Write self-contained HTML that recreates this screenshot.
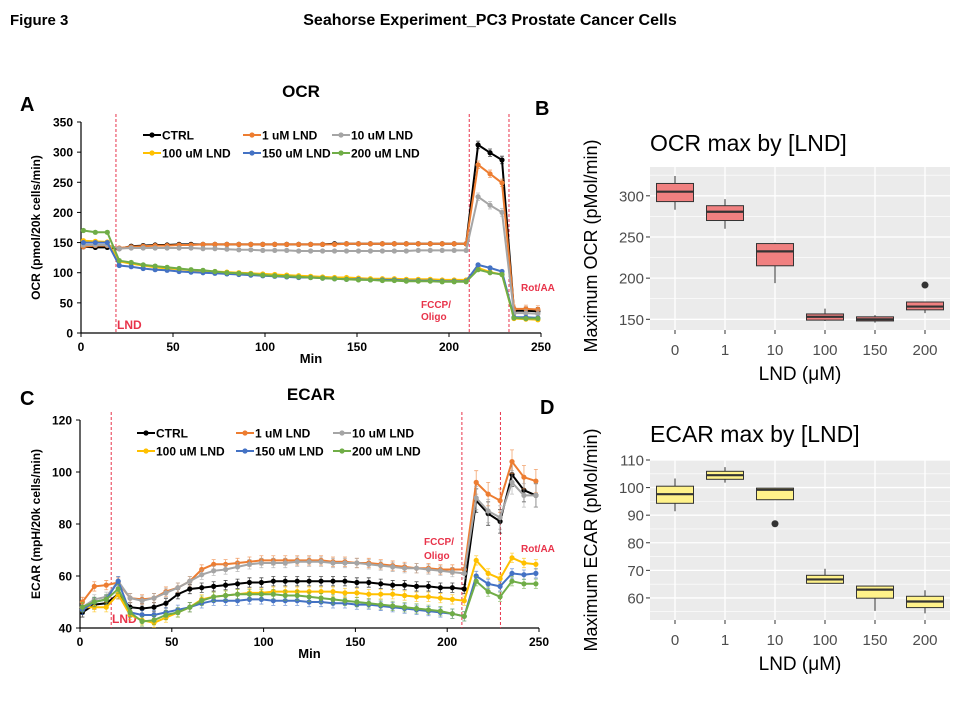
<!DOCTYPE html>
<html><head><meta charset="utf-8"><style>
html,body{margin:0;padding:0;background:#fff;}
svg{display:block;font-family:"Liberation Sans",Arial,sans-serif;}
</style></head><body>
<svg id="fig" width="960" height="720" viewBox="0 0 960 720">
<text x="10" y="25" font-size="15" font-weight="bold">Figure 3</text>
<text x="490" y="25" font-size="16" font-weight="bold" text-anchor="middle">Seahorse Experiment_PC3 Prostate Cancer Cells</text>
<text x="20" y="111" font-size="20" font-weight="bold">A</text>
<text x="535" y="115" font-size="20" font-weight="bold">B</text>
<text x="20" y="405" font-size="20" font-weight="bold">C</text>
<text x="540" y="414" font-size="20" font-weight="bold">D</text>
<g id="gA"></g>
<g id="gC"></g>
<g id="gB"></g>
<g id="gD"></g>
</svg>
<script>
const times=[1.3,7.8,14.3,20.8,27.3,33.8,40.3,46.8,53.3,59.8,66.3,72.8,79.3,85.8,92.3,98.8,105.3,111.8,118.3,124.8,131.3,137.8,144.3,150.8,157.3,163.8,170.3,176.8,183.3,189.8,196.3,202.8,209.3,215.8,222.3,228.8,235.3,241.8,248.3];
const seriesNames=["CTRL","1 uM LND","10 uM LND","100 uM LND","150 uM LND","200 uM LND"];
const seriesColors=["#000000","#ed7d31","#a5a5a5","#ffc000","#4472c4","#70ad47"];
const ocrCtrl=[143,142,142,140,144,145,146,146,147,147,147,147,147,147,147,147,147,147,147,147,147,148,148,148,148,148,148,148,148,148,148,148,148,312,299,287,37,37,36];
const ocr1=[143,145,145,141,143,144,145,145,146,146,147,147,147,147,147,147,147,147,147,147,147,147,148,148,148,148,148,148,148,148,148,148,148,279,264,249,40,40,39];
const ocr10=[146,146,146,140,141,141,141,141,141,141,140,140,139,138,138,137,137,137,136,136,136,136,136,136,136,136,136,136,137,137,137,137,137,226,212,200,33,33,32];
const ocr100=[153,152,151,119,115,112,109,107,106,104,103,102,101,100,99,98,97,96,95,94,93,92,92,91,90,90,90,89,89,89,88,88,88,108,101,97,24,23,22];
const ocr150=[150,150,150,112,110,107,105,104,102,101,100,99,98,97,96,95,94,93,92,92,91,90,89,89,88,88,88,87,87,87,86,86,86,113,108,102,26,26,25];
const ocr200=[170,167,167,120,117,113,111,109,107,105,104,102,100,99,98,96,95,94,93,92,91,90,89,88,88,87,87,86,86,86,85,85,85,105,100,97,25,24,24];
const ecarCtrl=[46,49,49.5,53,48,47.5,48,49.5,53,55,55.5,56,56.5,57,57.5,57.5,58,58,58,58,58,58,58,57.5,57.5,57,56.5,56.5,56,56,55.5,55.5,55,89,84,81,99,93,91];
const ecar1=[50,56,56.5,57.5,51.5,51,51.5,54,55.5,58,62.5,64.5,64.5,65,65.5,66,66,66,66,66,66,65.5,65.5,65,65,64.5,64,63.5,63,63,62.5,62.5,62.5,96,91.5,89,104,98,96.5];
const ecar10=[48,51,52,58,51.5,50.5,51.5,53.5,55.5,58,60.5,62,62.5,63.5,64.5,65,65,65,65.5,65.5,65.5,65,65,65,64.5,64,63.5,63,63,62.5,62,61.5,61,90,85,82.5,96,91,91];
const ecar100=[48,48,48,53,45,43,42,44,46,48,51,52,52.5,53,53.5,53.5,54,54,54,54,54,54,53.5,53.5,53,53,53,52.5,52,52,51.5,51,50.5,66,61,59,67,65,64.5];
const ecar150=[47,50,51,58,46,45,45,46,47,48,49.5,50.5,50.5,50.5,51,51,50.5,50.5,50.5,50,50,49.5,49.5,49,49,48.5,48,47.5,47,46.5,46,45.5,44.5,60,57,56,61,60.5,61];
const ecar200=[48,50,51,55,46,42.5,43,45,46,48,50.5,52,52.5,53,53,53,53,52.5,52.5,52,51.5,51,50.5,50,49.5,49,48.5,48,47.5,47,46.5,45.5,44.5,58,54,52,58,57,57];
const ocrTicks=[0,50,100,150,200,250,300,350];
const ecarTicks=[40,60,80,100,120];
const xTicks=[0,50,100,150,200,250];
const boxCats=["0","1","10","100","150","200"];
const ocrBoxLow=[283,260,194,148,146,157.5];
const ocrBoxQ1=[293,270,215,149,148,161.5];
const ocrBoxMed=[305,280.6,232.5,153,150,165.5];
const ocrBoxQ3=[315,288,242,156.5,153,171];
const ocrBoxHigh=[324,296,243,163,155,171];
const ocrOutliers=[[5,191.6]];
const ocrBoxTicks=[150,200,250,300];
const ecarBoxLow=[91.4,101.8,95.6,65.3,55.3,54.4];
const ecarBoxQ1=[94.3,103,95.6,65.3,59.9,56.5];
const ecarBoxMed=[97.6,104.5,99.2,66.7,63,58.7];
const ecarBoxQ3=[100.5,105.9,99.8,68.2,64.3,60.6];
const ecarBoxHigh=[103.3,107.4,99.8,70.6,64.3,62.8];
const ecarOutliers=[[2,86.9]];
const ecarBoxTicks=[60,70,80,90,100,110];

const NS="http://www.w3.org/2000/svg";
function mk(parent,tag,attrs,text){const e=document.createElementNS(NS,tag);for(const k in attrs)e.setAttribute(k,attrs[k]);if(text!==undefined)e.textContent=text;parent.appendChild(e);return e;}

function lineChart(g,cfg){
  const xs=v=>cfg.x0+(v/250)*(cfg.x1-cfg.x0);
  const ys=v=>cfg.yb+(v-cfg.ymin)/(cfg.ymax-cfg.ymin)*(cfg.yt-cfg.yb);
  let t=mk(g,'text',{x:cfg.titleX,y:cfg.titleY,'font-size':17,'font-weight':'bold','text-anchor':'middle'},cfg.title);
  
  
  cfg.yTicks.forEach(v=>{
    const l=mk(g,'text',{x:cfg.x0-8,y:ys(v)+4.5,'font-size':12,'font-weight':'bold','text-anchor':'end'},v);
    
    
    mk(g,'line',{x1:cfg.x0-4,x2:cfg.x0,y1:ys(v),y2:ys(v),stroke:'#000'});
  });
  xTicks.forEach(v=>{
    const l=mk(g,'text',{x:xs(v),y:cfg.yb+18,'font-size':12,'font-weight':'bold','text-anchor':'middle'},v);
    
    
    mk(g,'line',{x1:xs(v),x2:xs(v),y1:cfg.yb,y2:cfg.yb+4,stroke:'#000'});
  });
  const ax=mk(g,'path',{d:`M${cfg.x0},${cfg.yt}V${cfg.yb}H${cfg.x1}`,stroke:'#000',fill:'none','stroke-width':1.2});
  
  
  const xt=mk(g,'text',{x:(cfg.x0+cfg.x1)/2,y:cfg.yb+30,'font-size':13,'font-weight':'bold','text-anchor':'middle'},'Min');
  
  
  const cy=(cfg.yt+cfg.yb)/2;
  const yt=mk(g,'text',{x:40,y:cy,'font-size':12,'font-weight':'bold','text-anchor':'middle',transform:`rotate(-90 40 ${cy})`},cfg.yTitle);
  
  
  cfg.vlines.forEach(v=>{
    const l=mk(g,'line',{x1:xs(v),x2:xs(v),y1:cfg.yt-8,y2:cfg.yb,stroke:'#e8334a','stroke-width':1,'stroke-dasharray':'3,2'});
    
    
  });
  cfg.notes.forEach(n=>{
    const l=mk(g,'text',{x:n[0],y:n[1],'font-size':n[3]||11,'font-weight':'bold',fill:'#e8334a'},n[2]);
    
    
  });
  cfg.series.forEach((arr,si)=>{
    const col=seriesColors[si];
    const sg=mk(g,'g',{});
    
    
    let d='';
    arr.forEach((v,i)=>{const px=xs(times[i]),py=ys(v);d+=(i?'L':'M')+px.toFixed(1)+','+py.toFixed(1);
      const e=cfg.err*(si<3&&i>=33?2.5:1);
      mk(sg,'path',{d:`M${px},${ys(v+e)}V${ys(v-e)}M${px-2},${ys(v+e)}H${px+2}M${px-2},${ys(v-e)}H${px+2}`,stroke:col,'stroke-width':0.8,opacity:0.7});
    });
    mk(sg,'path',{d:d,stroke:col,'stroke-width':2,fill:'none'});
    arr.forEach((v,i)=>{const c=mk(sg,'circle',{cx:xs(times[i]),cy:ys(v),r:2.6,fill:col});
      
      });
  });
  seriesNames.forEach((n,i)=>{
    const lx=cfg.legX[i%3],ly=cfg.legY[Math.floor(i/3)];
    const lg=mk(g,'g',{});
    
    
    mk(lg,'line',{x1:lx,x2:lx+18,y1:ly,y2:ly,stroke:seriesColors[i],'stroke-width':2});
    mk(lg,'circle',{cx:lx+9,cy:ly,r:2.6,fill:seriesColors[i]});
    mk(lg,'text',{x:lx+19,y:ly+4.5,'font-size':12,'font-weight':'bold'},n);
  });
}

lineChart(document.getElementById('gA'),{x0:81,x1:541,yt:122,yb:333,ymin:0,ymax:350,yTicks:ocrTicks,title:'OCR',titleX:301,titleY:97,
  yTitle:'OCR (pmol/20k cells/min)',vlines:[19,211,232.6],err:2.5,
  notes:[[117,329,'LND',12],[421,308,'FCCP/',10],[421,320,'Oligo',10],[521,291,'Rot/AA',10]],
  series:[ocrCtrl,ocr1,ocr10,ocr100,ocr150,ocr200],legX:[143,243,332],legY:[135,153]});
lineChart(document.getElementById('gC'),{x0:80,x1:539,yt:420,yb:628,ymin:40,ymax:120,yTicks:ecarTicks,title:'ECAR',titleX:311,titleY:400,
  yTitle:'ECAR (mpH/20k cells/min)',vlines:[17,208,229],err:1.8,
  notes:[[112,623,'LND',12],[424,545,'FCCP/',10],[424,559,'Oligo',10],[521,552,'Rot/AA',10]],
  series:[ecarCtrl,ecar1,ecar10,ecar100,ecar150,ecar200],legX:[137,236,333],legY:[433,451]});

function boxChart(g,cfg){
  const ys=v=>cfg.yb+(v-cfg.ymin)/(cfg.ymax-cfg.ymin)*(cfg.yt-cfg.yb);
  const catX=i=>cfg.px0+(i+0.5)*(cfg.px1-cfg.px0)/6;
  const bg=mk(g,'rect',{x:cfg.px0,y:cfg.yt,width:cfg.px1-cfg.px0,height:cfg.yb-cfg.yt,fill:'#ebebeb'});
  
  
  const step=cfg.ticks[1]-cfg.ticks[0];
  const minors=[cfg.ticks[0]-step/2].concat(cfg.ticks.map(v=>v+step/2));
  minors.forEach(m=>{const y=ys(m);if(y>cfg.yt&&y<cfg.yb)mk(g,'line',{x1:cfg.px0,x2:cfg.px1,y1:y,y2:y,stroke:'#fff','stroke-width':0.6});});
  cfg.ticks.forEach(v=>{
    mk(g,'line',{x1:cfg.px0,x2:cfg.px1,y1:ys(v),y2:ys(v),stroke:'#fff','stroke-width':1.3});
    mk(g,'line',{x1:cfg.px0-4,x2:cfg.px0,y1:ys(v),y2:ys(v),stroke:'#333'});
    const l=mk(g,'text',{x:cfg.px0-6,y:ys(v)+5.5,'font-size':15,fill:'#4d4d4d','text-anchor':'end'},v);
    
    
  });
  boxCats.forEach((c,i)=>{
    const x=catX(i);
    mk(g,'line',{x1:x,x2:x,y1:cfg.yt,y2:cfg.yb,stroke:'#fff','stroke-width':1.3});
    mk(g,'line',{x1:x,x2:x,y1:cfg.yb,y2:cfg.yb+4,stroke:'#333'});
    const l=mk(g,'text',{x:x,y:cfg.yb+25,'font-size':15,fill:'#4d4d4d','text-anchor':'middle'},c);
    
    
  });
  boxCats.forEach((c,i)=>{
    const x=catX(i),w=37;
    const bx=mk(g,'g',{});
    
    
    mk(bx,'line',{x1:x,x2:x,y1:ys(cfg.high[i]),y2:ys(cfg.q3[i]),stroke:'#333','stroke-width':1});
    mk(bx,'line',{x1:x,x2:x,y1:ys(cfg.q1[i]),y2:ys(cfg.low[i]),stroke:'#333','stroke-width':1});
    mk(bx,'rect',{x:x-w/2,y:ys(cfg.q3[i]),width:w,height:Math.max(ys(cfg.q1[i])-ys(cfg.q3[i]),1),fill:cfg.fill,stroke:'#333','stroke-width':1});
    mk(bx,'line',{x1:x-w/2,x2:x+w/2,y1:ys(cfg.med[i]),y2:ys(cfg.med[i]),stroke:'#333','stroke-width':2.2});
  });
  cfg.out.forEach(o=>{const c=mk(g,'circle',{cx:catX(o[0]),cy:ys(o[1]),r:3.5,fill:'#333'});
    
    });
  const t=mk(g,'text',{x:cfg.px0,y:cfg.titleY,'font-size':23},cfg.title);
  
  
  const xt=mk(g,'text',{x:(cfg.px0+cfg.px1)/2,y:cfg.yb+50,'font-size':19,'text-anchor':'middle'},'LND (\u03bcM)');
  
  
  const yt=mk(g,'text',{x:597,y:cfg.ytc,'font-size':18,'text-anchor':'middle',transform:`rotate(-90 597 ${cfg.ytc})`},cfg.yTitle);
  
  
}
boxChart(document.getElementById('gB'),{px0:650,px1:950,yt:167,yb:330,ymin:137,ymax:335,
  ticks:ocrBoxTicks,low:ocrBoxLow,q1:ocrBoxQ1,med:ocrBoxMed,q3:ocrBoxQ3,high:ocrBoxHigh,out:ocrOutliers,fill:'#f08080',
  title:'OCR max by [LND]',titleY:151,yTitle:'Maximum OCR (pMol/min)',ytc:246});
boxChart(document.getElementById('gD'),{px0:650,px1:950,yt:460,yb:620,ymin:52,ymax:110,
  ticks:ecarBoxTicks,low:ecarBoxLow,q1:ecarBoxQ1,med:ecarBoxMed,q3:ecarBoxQ3,high:ecarBoxHigh,out:ecarOutliers,fill:'#fff28a',
  title:'ECAR max by [LND]',titleY:442,yTitle:'Maximum ECAR (pMol/min)',ytc:540});
</script>
</body></html>
